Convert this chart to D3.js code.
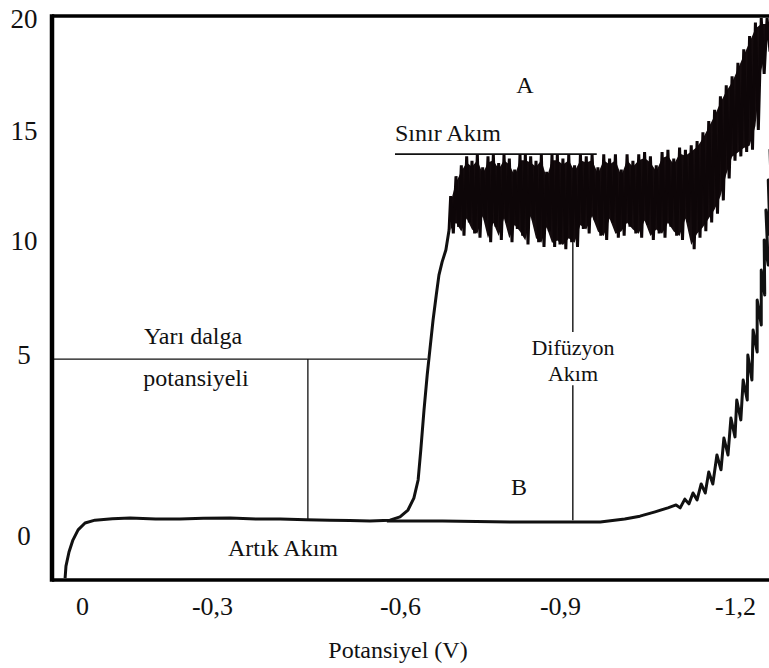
<!DOCTYPE html>
<html>
<head>
<meta charset="utf-8">
<script src="https://cdn.jsdelivr.net/npm/d3@7/dist/d3.min.js"></script>
<style>
  html, body { margin: 0; padding: 0; background: #fff; }
  svg { display: block; }
</style>
</head>
<body>
<svg id="chart" width="769" height="668"></svg>
<script>
const SERIF = '"Liberation Serif", "Times New Roman", "DejaVu Serif", serif';

// ---------- tick labels ----------
const xTickValues = [0, -0.3, -0.6, -0.9, -1.2];
const xTickLabels = ["0", "-0,3", "-0,6", "-0,9", "-1,2"];
const yTickValues = [0, 5, 10, 15, 20];
const yTickLabels = ["0", "5", "10", "15", "20"];

// ---------- curve A : residual current + wave rise (V, µA) ----------
const riseE = [0.039, 0.037, 0.030, 0.021, 0.009, -0.007, -0.030, -0.070, -0.111, -0.170, -0.226, -0.280, -0.329, -0.370, -0.409, -0.450, -0.488, -0.520, -0.552, -0.584, -0.600, -0.615, -0.626, -0.634, -0.639, -0.645, -0.651, -0.656, -0.662, -0.668, -0.673, -0.679, -0.686, -0.692];
const riseI = [-1.19, -0.86, -0.47, -0.14, 0.14, 0.33, 0.41, 0.45, 0.47, 0.44, 0.44, 0.46, 0.47, 0.44, 0.44, 0.42, 0.41, 0.40, 0.39, 0.41, 0.50, 0.69, 1.02, 1.52, 2.35, 3.45, 4.42, 5.18, 6.49, 7.59, 8.46, 9.04, 9.56, 10.45];

// ---------- curve A : oscillating limiting-current plateau ----------
const plateauE = [-0.695, -0.700, -0.705, -0.710, -0.715, -0.720, -0.725, -0.730, -0.735, -0.740,
  -0.745, -0.750, -0.755, -0.760, -0.765, -0.770, -0.775, -0.780, -0.785, -0.790,
  -0.795, -0.800, -0.805, -0.810, -0.815, -0.820, -0.825, -0.830, -0.835, -0.840,
  -0.845, -0.850, -0.855, -0.860, -0.865, -0.870, -0.875, -0.880, -0.885, -0.890,
  -0.895, -0.900, -0.905, -0.910, -0.915, -0.920, -0.925, -0.930, -0.935, -0.940,
  -0.945, -0.950, -0.955, -0.960, -0.965, -0.970, -0.975, -0.980, -0.985, -0.990,
  -0.995, -1.000, -1.005, -1.010, -1.015, -1.020, -1.025, -1.030, -1.035, -1.040,
  -1.045, -1.050, -1.055, -1.060, -1.065, -1.070, -1.075, -1.080, -1.085, -1.090,
  -1.095, -1.100, -1.105, -1.110, -1.115, -1.120, -1.125, -1.130, -1.135, -1.140,
  -1.145, -1.150, -1.155, -1.160, -1.165, -1.170, -1.175, -1.180, -1.185, -1.190,
  -1.195, -1.200, -1.205, -1.210, -1.215, -1.220, -1.225, -1.230, -1.235, -1.240,
  -1.245, -1.250, -1.255, -1.260];
const plateauI = [12.0, 10.3, 12.9, 10.6, 13.4, 10.2, 13.8, 10.8, 13.6, 10.3,
  13.9, 10.1, 13.3, 10.9, 13.8, 9.9, 13.9, 10.6, 13.5, 10.0,
  13.9, 10.8, 13.7, 9.9, 13.2, 10.5, 13.9, 10.2, 13.9, 9.8,
  13.8, 10.9, 13.6, 9.9, 13.9, 9.7, 13.1, 10.4, 13.9, 9.7,
  13.9, 9.8, 13.7, 9.6, 13.9, 9.9, 13.4, 9.7, 13.9, 10.5,
  13.8, 10.3, 13.9, 10.9, 13.3, 10.2, 13.9, 10.0, 13.7, 10.8,
  13.9, 10.1, 13.2, 10.2, 13.9, 10.6, 13.6, 10.3, 13.9, 10.1,
  14.0, 10.7, 13.8, 10.0, 13.4, 10.3, 14.0, 10.1, 14.1, 10.6,
  13.7, 10.2, 14.2, 10.0, 14.1, 10.8, 14.3, 9.6, 14.5, 10.1,
  14.9, 10.4, 15.4, 10.8, 15.9, 11.2, 16.5, 11.8, 17.0, 12.8,
  17.4, 13.6, 18.0, 13.8, 18.6, 14.0, 19.2, 14.1, 19.8, 15.0,
  20.0, 17.5, 20.0, 18.5];

// ---------- curve B : blank (supporting electrolyte only) ----------
const blankE = [-0.579, -0.680, -0.8125, -0.969, -1.011, -1.037, -1.063, -1.085, -1.099, -1.106,
  -1.114, -1.121, -1.128, -1.135, -1.142, -1.149, -1.155, -1.162, -1.169, -1.176,
  -1.181, -1.188, -1.193, -1.200, -1.203, -1.210, -1.214, -1.221, -1.222, -1.229,
  -1.231, -1.238, -1.238, -1.245, -1.245, -1.251, -1.250, -1.257, -1.253, -1.260,
  -1.257, -1.263, -1.260, -1.267, -1.263];
const blankI = [0.39, 0.39, 0.36, 0.36, 0.44, 0.52, 0.64, 0.75, 0.83, 0.75,
  0.99, 0.86, 1.16, 0.97, 1.41, 1.16, 1.74, 1.41, 2.21, 1.80,
  2.68, 2.21, 3.23, 2.71, 3.73, 3.18, 4.28, 3.73, 4.97, 4.28,
  6.05, 5.09, 7.37, 6.27, 8.68, 7.59, 10.00, 8.90, 11.36, 10.23,
  12.73, 11.59, 14.09, 13.18, 15.22];

// ---------- guide lines ----------
const sinirLine = { E: [-0.592, -0.963], I: [13.9, 13.9] };
const halfWaveE = -0.453, halfWaveI = 4.86, halfWaveEndE = -0.651, residualI = 0.41;
const diffusionE = -0.922;
const diffusionSegments = [[10.0, 5.96], [4.14, 0.41]];

// ---------- scales ----------
const x = d3.scaleLinear().domain(xTickValues).range([82, 212, 400, 560, 735]);
const y = d3.scaleLinear().domain(yTickValues).range([535, 354, 240, 130, 18]);

const svg = d3.select("#chart");
const frameL = 52, frameT = 16, frameB = 580, frameR = 769;

svg.append("defs").append("clipPath").attr("id", "plotClip")
  .append("rect").attr("x", frameL).attr("y", frameT).attr("width", frameR - frameL).attr("height", frameB - frameT);

const plot = svg.append("g").attr("clip-path", "url(#plotClip)");
const line = d3.line().x(d => x(d[0])).y(d => y(d[1]));

const riseData = riseE.map((e, i) => [e, riseI[i]]);
const plateauData = plateauE.map((e, i) => [e, plateauI[i]]);
const blankData = blankE.map((e, i) => [e, blankI[i]]);

// oscillation envelope: each drop pairs a maximum (even index) with the following minimum
const dropPairs = [];
for (let i = 0; i + 1 < plateauData.length; i += 2) {
  dropPairs.push({ e: plateauData[i][0], hi: plateauData[i][1], lo: plateauData[i + 1][1] });
}

// guide lines
const guide = (x1, x2, y1, y2, w) => plot.append("line")
  .attr("x1", x1).attr("x2", x2).attr("y1", y1).attr("y2", y2)
  .attr("stroke", "#111").attr("stroke-width", w);
guide(frameL, x(halfWaveEndE), y(halfWaveI), y(halfWaveI), 1.3);
guide(x(halfWaveE), x(halfWaveE), y(halfWaveI), y(residualI), 1.3);
diffusionSegments.forEach(s => guide(x(diffusionE), x(diffusionE), y(s[0]), y(s[1]), 1.4));
guide(x(sinirLine.E[0]), x(sinirLine.E[1]), y(sinirLine.I[0]), y(sinirLine.I[1]), 1.8);

// curves
plot.append("path").datum(blankData).attr("d", line)
  .attr("fill", "none").attr("stroke", "#111").attr("stroke-width", 3).attr("stroke-linejoin", "round");
plot.append("path").datum(riseData).attr("d", line)
  .attr("fill", "none").attr("stroke", "#111").attr("stroke-width", 3).attr("stroke-linejoin", "round");
plot.append("path").datum(dropPairs)
  .attr("d", d3.area().x(d => x(d.e)).y0(d => y(d.lo) - 4).y1(d => y(d.hi) + 6))
  .attr("fill", "#140c0e");
plot.append("path").datum([riseData[riseData.length - 1]].concat(plateauData)).attr("d", line)
  .attr("fill", "none").attr("stroke", "#0d0608").attr("stroke-width", 3).attr("stroke-linejoin", "miter");

// frame
svg.append("line").attr("x1", frameL).attr("x2", frameR).attr("y1", frameT).attr("y2", frameT)
  .attr("stroke", "#000").attr("stroke-width", 3.5);
svg.append("line").attr("x1", frameL).attr("x2", frameR).attr("y1", frameB).attr("y2", frameB)
  .attr("stroke", "#000").attr("stroke-width", 3.5);
svg.append("line").attr("x1", frameL).attr("x2", frameL).attr("y1", frameT - 1.7).attr("y2", frameB + 1.7)
  .attr("stroke", "#000").attr("stroke-width", 4.5);

// axes
const xAxis = svg.append("g").attr("transform", "translate(0,590)")
  .call(d3.axisBottom(x).tickValues(xTickValues).tickFormat((d, i) => xTickLabels[i]).tickSize(0).tickPadding(0));
xAxis.select(".domain").remove();
xAxis.selectAll("text").attr("y", 16).attr("dy", "0.35em")
  .style("font-family", SERIF).style("font-size", "26px").style("fill", "#111");

const yAxis = svg.append("g").attr("transform", "translate(24,0)")
  .call(d3.axisLeft(y).tickValues(yTickValues).tickFormat((d, i) => yTickLabels[i]).tickSize(0).tickPadding(0));
yAxis.select(".domain").remove();
yAxis.selectAll("text").attr("x", 0).attr("dy", "0.35em").attr("text-anchor", "middle")
  .style("font-family", SERIF).style("font-size", "27px").style("fill", "#111");

// axis title
svg.append("text").attr("x", 398).attr("y", 650).attr("dy", "0.35em").attr("text-anchor", "middle")
  .style("font-family", SERIF).style("font-size", "24px").style("fill", "#111").text("Potansiyel (V)");

// annotations
const ann = [
  { t: "A", x: 525, y: 85, s: 24 },
  { t: "Yarı dalga", x: 193, y: 336, s: 24 },
  { t: "potansiyeli", x: 196, y: 378, s: 24 },
  { t: "Artık Akım", x: 283, y: 548, s: 24 },
  { t: "Difüzyon", x: 573, y: 347, s: 22 },
  { t: "Akım", x: 573, y: 373, s: 22 },
  { t: "B", x: 519, y: 487, s: 24 }
];
ann.forEach(a => {
  svg.append("text").attr("x", a.x).attr("y", a.y).attr("dy", "0.35em")
    .attr("text-anchor", "middle")
    .style("font-family", SERIF).style("font-size", a.s + "px").style("fill", "#111").text(a.t);
});
svg.append("text").attr("x", 395).attr("y", 133).attr("dy", "0.35em")
  .attr("text-anchor", "start")
  .style("font-family", SERIF).style("font-size", "24px").style("fill", "#111").text("Sınır Akım");
</script>
</body>
</html>
